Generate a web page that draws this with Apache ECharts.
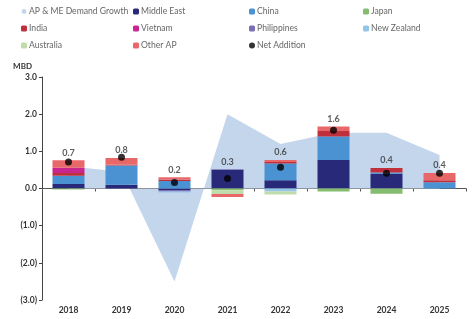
<!DOCTYPE html>
<html><head><meta charset="utf-8">
<script src="https://cdn.jsdelivr.net/npm/echarts@6/dist/echarts.min.js"></script>
<style>html,body{margin:0;padding:0;background:#fff}#c{width:472px;height:319px}</style>
</head><body><div id="c"></div>
<script>
const years = ['2018','2019','2020','2021','2022','2023','2024','2025'];
const demandGrowth = [0.6, 0.45, -2.5, 2.0, 1.2, 1.5, 1.5, 0.9];
const middleEast  = [0.12, 0.10, -0.04, 0.50, 0.22, 0.77, 0.40, 0];
const china       = [0.22, 0.52, 0.20, 0, 0.45, 0.63, 0.03, 0.17];
const japan       = [-0.02, 0, 0, -0.05, 0, -0.08, -0.14, 0];
const india       = [0.08, 0.02, 0.04, 0, 0.04, 0.15, 0.12, 0.05];
const vietnam     = [0.14, 0, 0, 0, 0, 0, 0, 0];
const philippines = [0, 0, -0.04, 0.02, 0, 0, 0, 0];
const newZealand  = [0, 0, -0.03, 0, -0.08, 0, 0, 0];
const australia   = [-0.02, 0, 0, -0.1, -0.08, 0, 0, 0];
const otherAP     = [0.2, 0.18, 0.06, -0.08, 0.06, 0.12, 0, 0.2];
const netAddition = [0.71, 0.84, 0.16, 0.27, 0.57, 1.57, 0.41, 0.41];
const yTicks = {'3':'3.0','2':'2.0','1':'1.0','0':'0.0','-1':'(1.0)','-2':'(2.0)','-3':'(3.0)'};

const stackSeries = [
  ['Middle East', middleEast, '#29297a'],
  ['China', china, '#4a92d2'],
  ['Japan', japan, '#84bd70'],
  ['India', india, '#c0303c'],
  ['Vietnam', vietnam, '#c8268e'],
  ['Philippines', philippines, '#7a6fb2'],
  ['New Zealand', newZealand, '#93c6e8'],
  ['Australia', australia, '#bfdcaa'],
  ['Other AP', otherAP, '#e8686a']
];
const posTop = years.map((_, i) => stackSeries.reduce((s, d) => s + Math.max(0, d[1][i]), 0));

const font = 'Lato, "Open Sans", sans-serif';
const chart = echarts.init(document.getElementById('c'), null, {renderer:'canvas'});
const legendCommon = {orient:'vertical', top:2, itemGap:8, itemWidth:6, itemHeight:6,
  textStyle:{fontFamily:font, fontSize:8.6, color:'#666', padding:[0,0,0,-3]}};
const series = [{
  name:'AP & ME Demand Growth', type:'line', data:demandGrowth, symbol:'none',
  lineStyle:{width:0}, areaStyle:{color:'#c4d6ec', opacity:1}, itemStyle:{color:'#c4d6ec'}, z:1
}];
stackSeries.forEach(([n, d, c]) => series.push({
  name:n, type:'bar', stack:'s', data:d, barWidth:32, itemStyle:{color:c}, z:2
}));
series.push({name:'Net Addition', type:'scatter', data:netAddition, symbol:'circle', symbolSize:7,
  itemStyle:{color:'#000'}, z:5});
series.push({name:'labels', type:'scatter', data:posTop, symbolSize:0, silent:true,
  label:{show:true, position:'top', distance:3, fontFamily:font, fontSize:9, fontWeight:'bold', color:'#333',
    formatter:p => netAddition[p.dataIndex].toFixed(1)}, z:6});

chart.setOption({
  animation:false,
  legend:[
    Object.assign({left:16, data:['AP & ME Demand Growth','India','Australia']}, legendCommon),
    Object.assign({left:128, data:['Middle East','Vietnam','Other AP']}, legendCommon),
    Object.assign({left:244, data:['China','Philippines',{name:'Net Addition', icon:'circle'}]}, legendCommon),
    Object.assign({left:358, data:['Japan','New Zealand']}, legendCommon)
  ],
  grid:{left:42, right:6, top:77, bottom:19},
  xAxis:[{
    type:'category', data:years,
    axisLine:{onZero:true, lineStyle:{color:'#555', width:1}},
    axisTick:{show:true, length:3, lineStyle:{color:'#555'}},
    axisLabel:{show:false}
  },{
    type:'category', data:years, position:'bottom',
    axisLine:{show:false, onZero:false}, axisTick:{show:false},
    axisLabel:{fontFamily:font, fontSize:8.5, fontWeight:'bold', color:'#333', margin:6}
  }],
  yAxis:{
    type:'value', min:-3, max:3, interval:1, name:'MBD',
    nameLocation:'end', nameGap:7, nameTextStyle:{fontFamily:font, fontSize:8, fontWeight:'bold', color:'#333', align:'right', padding:[0,10,0,0]},
    axisLine:{show:true, lineStyle:{color:'#444'}},
    axisTick:{show:true, length:3, lineStyle:{color:'#444'}},
    splitLine:{show:false},
    axisLabel:{fontFamily:font, fontSize:8.5, fontWeight:'bold', color:'#333', margin:5,
      formatter:v => yTicks[String(v)]}
  },
  series:series
});
</script></body></html>
